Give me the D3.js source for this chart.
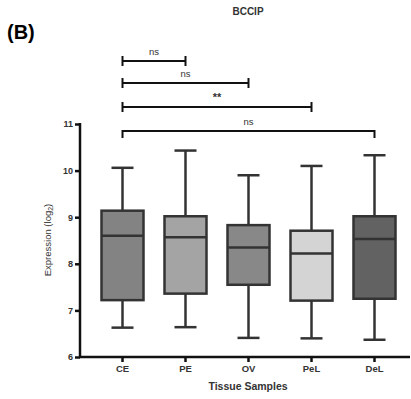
<!DOCTYPE html>
<html lang="en">
<head>
    <meta charset="UTF-8">
    <title>BCCIP Expression Boxplot</title>
    <script src="https://d3js.org/d3.v7.min.js"></script>
    <style>
        body {
            margin: 0;
            background-color: white;
            font-family: 'Liberation Sans', Arial, sans-serif;
        }
        .box {
            stroke: #333;
            stroke-width: 2.5px;
        }
        .whisker, .median, .cap {
            stroke: #333;
            stroke-width: 2.5px;
        }
        .bracket {
            stroke: #111;
            stroke-width: 2px;
            fill: none;
        }
        .axis text {
            font-size: 9px;
            font-weight: bold;
            fill: #333;
        }
        .axis path, .axis line {
            stroke: #111;
            stroke-width: 2.5px;
        }
    </style>
</head>
<body>
    <div id="chart"></div>
    <script>
        const categories = ["CE", "PE", "OV", "PeL", "DeL"];
        const whiskerMin = [6.63, 6.64, 6.41, 6.40, 6.37];
        const q1Values = [7.22, 7.36, 7.55, 7.21, 7.25];
        const medians = [8.60, 8.57, 8.35, 8.22, 8.53];
        const q3Values = [9.14, 9.02, 8.83, 8.71, 9.02];
        const whiskerMax = [10.06, 10.43, 9.90, 10.10, 10.33];
        const boxColors = ["#838383", "#a4a4a4", "#888888", "#d4d4d4", "#626262"];
        const yTicks = [6, 7, 8, 9, 10, 11];
        // comparisons against CE
        const comparisons = [
            { to: "PE", label: "ns" },
            { to: "OV", label: "ns" },
            { to: "PeL", label: "**" },
            { to: "DeL", label: "ns" }
        ];

        const boxes = categories.map((c, i) => ({
            name: c,
            min: whiskerMin[i],
            q1: q1Values[i],
            median: medians[i],
            q3: q3Values[i],
            max: whiskerMax[i],
            color: boxColors[i]
        }));

        const W = 411, H = 399;
        const svg = d3.select("#chart").append("svg")
            .attr("width", W)
            .attr("height", H);

        const x = d3.scaleBand()
            .domain(categories)
            .range([91, 406]);

        const y = d3.scaleLinear()
            .domain([6, 11])
            .range([357, 124]);

        const cx = d => x(d) + x.bandwidth() / 2;
        const boxW = 42, capW = 22;

        // y axis
        const yAxis = svg.append("g")
            .attr("class", "axis")
            .attr("transform", "translate(80,0)")
            .call(d3.axisLeft(y).tickValues(yTicks).tickFormat(d3.format("d")).tickSize(5).tickPadding(2));
        yAxis.select(".domain").attr("d", `M0,${y(11) - 1}V${y(6)}`);

        // x axis
        const xAxis = svg.append("g")
            .attr("class", "axis")
            .attr("transform", `translate(0,${y(6)})`)
            .call(d3.axisBottom(x).tickSize(5).tickPadding(3));
        xAxis.select(".domain").attr("d", "M79,0H410");
        xAxis.selectAll("text").style("font-size", "9.5px");

        // whiskers
        svg.selectAll(".whisker")
            .data(boxes)
            .enter()
            .append("line")
            .attr("class", "whisker")
            .attr("x1", d => cx(d.name))
            .attr("x2", d => cx(d.name))
            .attr("y1", d => y(d.min))
            .attr("y2", d => y(d.max));

        ["min", "max"].forEach(k => {
            svg.selectAll(".cap-" + k)
                .data(boxes)
                .enter()
                .append("line")
                .attr("class", "cap")
                .attr("x1", d => cx(d.name) - capW / 2)
                .attr("x2", d => cx(d.name) + capW / 2)
                .attr("y1", d => y(d[k]))
                .attr("y2", d => y(d[k]));
        });

        // boxes
        svg.selectAll(".box")
            .data(boxes)
            .enter()
            .append("rect")
            .attr("class", "box")
            .attr("x", d => cx(d.name) - boxW / 2)
            .attr("width", boxW)
            .attr("y", d => y(d.q3))
            .attr("height", d => y(d.q1) - y(d.q3))
            .attr("fill", d => d.color);

        svg.selectAll(".median")
            .data(boxes)
            .enter()
            .append("line")
            .attr("class", "median")
            .attr("x1", d => cx(d.name) - boxW / 2)
            .attr("x2", d => cx(d.name) + boxW / 2)
            .attr("y1", d => y(d.median))
            .attr("y2", d => y(d.median));

        // significance brackets
        const bracketY = [61, 83, 107, 131];
        comparisons.forEach((c, i) => {
            const x1 = cx("CE"), x2 = cx(c.to), by = bracketY[i];
            const last = i === comparisons.length - 1;
            if (last) {
                svg.append("path")
                    .attr("class", "bracket")
                    .attr("d", `M${x1},${by + 7}V${by}H${x2}V${by + 7}`);
            } else {
                svg.append("line").attr("class", "bracket")
                    .attr("x1", x1).attr("x2", x2).attr("y1", by).attr("y2", by);
                [x1, x2].forEach(xx => {
                    svg.append("line").attr("class", "bracket")
                        .attr("x1", xx).attr("x2", xx)
                        .attr("y1", by - 5).attr("y2", by + 5);
                });
            }
            svg.append("text")
                .attr("x", (x1 + x2) / 2)
                .attr("y", by - 6)
                .attr("text-anchor", "middle")
                .style("font-size", c.label === "**" ? "11px" : "9.5px")
                .style("font-weight", c.label === "**" ? "bold" : "normal")
                .style("fill", "#333")
                .text(c.label);
        });

        // titles and labels
        svg.append("text")
            .attr("x", 248).attr("y", 15)
            .attr("text-anchor", "middle")
            .style("font-size", "10px")
            .style("font-weight", "bold")
            .style("fill", "#333")
            .text("BCCIP");

        svg.append("text")
            .attr("x", 7).attr("y", 39)
            .style("font-size", "20px")
            .style("font-weight", "bold")
            .text("(B)");

        const yl = svg.append("text")
            .attr("transform", "translate(51,240) rotate(-90)")
            .attr("text-anchor", "middle")
            .style("font-size", "9.5px")
            .style("fill", "#333");
        yl.append("tspan").text("Expression (log");
        yl.append("tspan").attr("dy", 2).style("font-size", "7px").text("2");
        yl.append("tspan").attr("dy", -2).text(")");

        svg.append("text")
            .attr("x", 248).attr("y", 390)
            .attr("text-anchor", "middle")
            .style("font-size", "10.5px")
            .style("font-weight", "bold")
            .style("fill", "#333")
            .text("Tissue Samples");
    </script>
</body>
</html>
